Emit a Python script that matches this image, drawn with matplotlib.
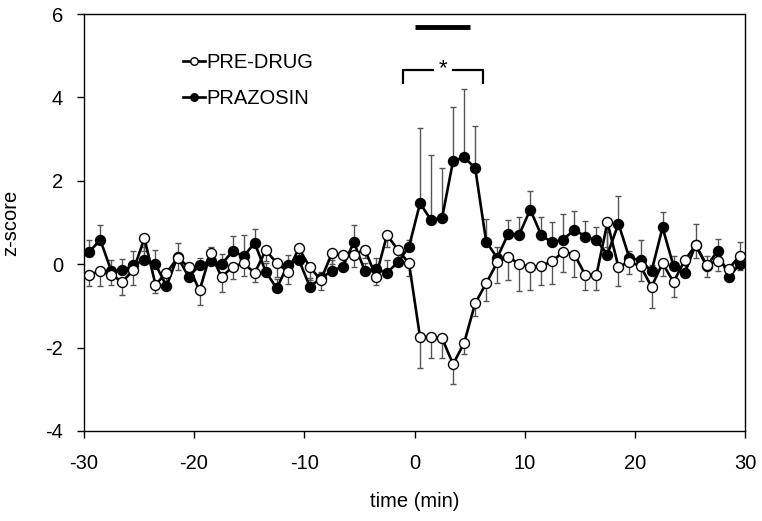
import numpy as np
import matplotlib
matplotlib.use("Agg")
import matplotlib.pyplot as plt

plt.rcParams['font.family'] = ['Liberation Sans', 'DejaVu Sans']
plt.rcParams['axes.unicode_minus'] = False

# time bins (min), centred on the half minute
time = np.arange(-29.5, 30, 1.0)

prazosin = [0.30, 0.58, -0.17, -0.15, -0.03, 0.11, 0.00, -0.53, 0.18, -0.30,
            -0.03, 0.08, 0.00, 0.31, 0.19, 0.51, -0.18, -0.58, -0.02, 0.11,
            -0.54, -0.34, -0.16, -0.06, 0.53, -0.17, -0.11, -0.21, 0.05, 0.42,
            1.46, 1.06, 1.11, 2.48, 2.56, 2.31, 0.54, 0.15, 0.73, 0.71,
            1.31, 0.69, 0.52, 0.59, 0.83, 0.66, 0.58, 0.23, 0.97, 0.14,
            0.10, -0.17, 0.88, -0.05, -0.22, 0.46, -0.05, 0.32, -0.31, 0.00]
prazosin_err = [0.29, 0.37, 0.28, 0.28, 0.35, 0.30, 0.35, 0.12, 0.33, 0.12,
                0.18, 0.33, 0.25, 0.37, 0.50, 0.33, 0.20, 0.22, 0.25, 0.17,
                0.20, 0.15, 0.25, 0.20, 0.40, 0.20, 0.25, 0.30, 0.30, 0.15,
                1.80, 1.55, 1.20, 1.30, 1.65, 1.00, 0.55, 0.25, 0.33, 0.43,
                0.45, 0.45, 0.48, 0.62, 0.45, 0.37, 0.30, 0.55, 0.66, 0.18,
                0.47, 0.15, 0.37, 0.25, 0.20, 0.50, 0.25, 0.28, 0.25, 0.53]

predrug = [-0.25, -0.17, -0.26, -0.42, -0.14, 0.62, -0.49, -0.21, 0.15, -0.06,
           -0.63, 0.26, -0.31, -0.06, 0.02, -0.21, 0.33, 0.03, -0.18, 0.38,
           -0.07, -0.38, 0.26, 0.21, 0.23, 0.35, -0.30, 0.70, 0.34, 0.02,
           -1.75, -1.75, -1.78, -2.40, -1.89, -0.94, -0.46, 0.04, 0.18, 0.00,
           -0.07, -0.04, 0.07, 0.30, 0.23, -0.26, -0.26, 1.00, -0.07, 0.06,
           -0.05, -0.54, 0.02, -0.43, 0.09, 0.45, -0.01, 0.08, -0.11, 0.20]
predrug_err = [0.27, 0.35, 0.25, 0.33, 0.35, 0.30, 0.20, 0.30, 0.30, 0.25,
               0.35, 0.20, 0.35, 0.30, 0.30, 0.22, 0.25, 0.35, 0.30, 0.20,
               0.30, 0.25, 0.25, 0.25, 0.30, 0.20, 0.20, 0.30, 0.30, 0.30,
               0.75, 0.50, 0.48, 0.48, 0.27, 0.30, 0.42, 0.50, 0.55, 0.65,
               0.55, 0.45, 0.55, 0.50, 0.55, 0.35, 0.35, 0.60, 0.45, 0.30,
               0.35, 0.52, 0.30, 0.35, 0.35, 0.30, 0.30, 0.25, 0.30, 0.35]

zeros = np.zeros(len(time))

fig = plt.figure(figsize=(7.62, 5.21), dpi=100)
ax = fig.add_axes([0.110, 0.173, 0.868, 0.800])

# one-sided error bars: up for prazosin, down for pre-drug
ax.errorbar(time, prazosin, yerr=[zeros, prazosin_err], fmt='none',
            ecolor='#555555', elinewidth=1.0, capsize=2.5, capthick=1.0, zorder=1)
ax.errorbar(time, predrug, yerr=[predrug_err, zeros], fmt='none',
            ecolor='#555555', elinewidth=1.0, capsize=2.5, capthick=1.0, zorder=1)

ax.plot(time, prazosin, '-o', color='black', lw=1.9, ms=7.2,
        mfc='black', mec='black', mew=1.0, label='PRAZOSIN', zorder=3)
ax.plot(time, predrug, '-o', color='black', lw=1.9, ms=7.2,
        mfc='white', mec='black', mew=1.0, label='PRE-DRUG', zorder=4)

# drug infusion bar
ax.plot([0, 5], [5.7, 5.7], color='black', lw=3.5, solid_capstyle='butt')

# significance bracket
ax.plot([-1.05, -1.05, 1.7], [4.35, 4.65, 4.65], color='black', lw=1.6)
ax.plot([3.5, 6.2, 6.2], [4.65, 4.65, 4.35], color='black', lw=1.6)
ax.text(2.6, 4.68, '*', ha='center', va='center', fontsize=16)

ax.set_xlim(-30, 30)
ax.set_ylim(-4, 6)
ax.set_xticks([-30, -20, -10, 0, 10, 20, 30])
ax.set_yticks([-4, -2, 0, 2, 4, 6])
ax.tick_params(direction='out', length=5, width=1, labelsize=14.5)
ax.tick_params(axis='x', pad=12)
ax.tick_params(axis='y', pad=10)
for s in ax.spines.values():
    s.set_linewidth(1.0)

ax.set_xlabel('time (min)', fontsize=14.5, labelpad=13)
ax.set_ylabel('z-score', fontsize=14.5, labelpad=18)

handles, labels = ax.get_legend_handles_labels()
ax.legend(handles[::-1], labels[::-1], loc='upper left',
          bbox_to_anchor=(0.122, 0.95), frameon=False, fontsize=14.5,
          handlelength=1.1, handletextpad=0.1, labelspacing=0.85,
          markerscale=0.75)

fig.savefig('out.png', dpi=100)
